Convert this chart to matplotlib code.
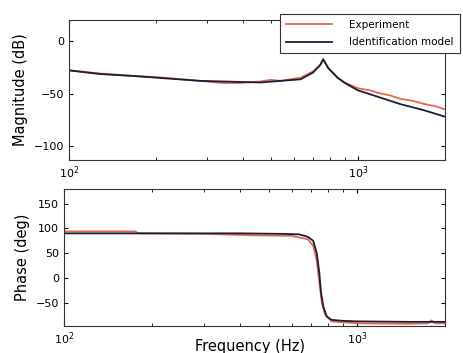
import numpy as np
import matplotlib
matplotlib.use("Agg")
import matplotlib.pyplot as plt

# Bode data (frequency in Hz)
mag_model_f = [100, 128, 160, 202, 285, 392, 460, 540, 633, 700, 740, 758,
               790, 850, 900, 1000, 1200, 1400, 1700, 2000]
mag_model_db = [-28, -31.5, -33, -35, -38, -39, -39.5, -38, -36.5, -30, -23, -17.5,
                -26, -35, -40, -47, -54, -60, -66, -72]

mag_exp_f = [100, 128, 160, 202, 285, 340, 392, 460, 500, 540, 600, 633, 700,
             740, 758, 790, 850, 900, 1000, 1100, 1200, 1300, 1400, 1550, 1700,
             1850, 2000]
mag_exp_db = [-28, -31, -33, -34.5, -38, -40, -40, -38.5, -37, -38, -36, -35, -29,
              -23, -17.5, -26, -35, -39.5, -45, -47, -50, -52, -55, -57, -60,
              -62, -65]

ph_model_f = [100, 200, 400, 550, 636, 680, 710, 730, 745, 755, 770, 790, 820,
              900, 1000, 1500, 2000]
ph_model_deg = [90, 90, 90, 89, 88, 83, 75, 50, 10, -30, -60, -78, -85,
                -87, -88, -89, -89]

ph_exp_f = [100, 175, 180, 300, 450, 600, 680, 710, 730, 745, 760, 780, 820,
            1000, 1500, 1750, 1800, 1850, 2000]
ph_exp_deg = [94, 94, 90, 89, 86, 85, 78, 65, 35, -10, -50, -75, -88,
              -92, -93, -92, -86, -92, -92]

exp_color = "#e4684c"
model_color = "#1c1c3c"

plt.rcParams["font.family"] = ["DejaVu Sans"]
plt.rcParams["xtick.direction"] = "in"
plt.rcParams["ytick.direction"] = "in"

fig = plt.figure(figsize=(4.63, 3.53), dpi=100)
ax1 = fig.add_axes([0.149, 0.547, 0.812, 0.397])
ax2 = fig.add_axes([0.138, 0.077, 0.823, 0.388])

l1, = ax1.plot(mag_exp_f, mag_exp_db, color=exp_color, lw=1.3, label="Experiment")
l2, = ax1.plot(mag_model_f, mag_model_db, color=model_color, lw=1.3,
               label="Identification model")
ax2.plot(ph_exp_f, ph_exp_deg, color=exp_color, lw=1.3)
ax2.plot(ph_model_f, ph_model_deg, color=model_color, lw=1.3)

for ax in (ax1, ax2):
    ax.set_xscale("log")
    ax.set_xlim(100, 2000)
    ax.tick_params(which="both", top=True, right=True, labelsize=8, length=3)
    ax.tick_params(which="minor", length=2)
    for s in ax.spines.values():
        s.set_linewidth(0.8)
        s.set_color("#333333")

ax1.set_ylim(-113, 20)
ax1.set_yticks([0, -50, -100])
ax1.set_ylabel("Magnitude (dB)", fontsize=10.5)

ax2.set_ylim(-97, 180)
ax2.set_yticks([150, 100, 50, 0, -50])
ax2.set_ylabel("Phase (deg)", fontsize=10.5)
ax2.set_xlabel("Frequency (Hz)", fontsize=10.5)
ax2.xaxis.set_label_coords(0.488, -0.095)

leg = fig.legend(handles=[l1, l2], loc="upper right", bbox_to_anchor=(1.004, 0.976),
                 fontsize=7.5, fancybox=False, framealpha=1, edgecolor="#333333",
                 handlelength=4.4, handletextpad=1.6, borderpad=0.6,
                 labelspacing=0.7)
leg.get_frame().set_linewidth(0.8)

fig.savefig("out.png", dpi=100)
